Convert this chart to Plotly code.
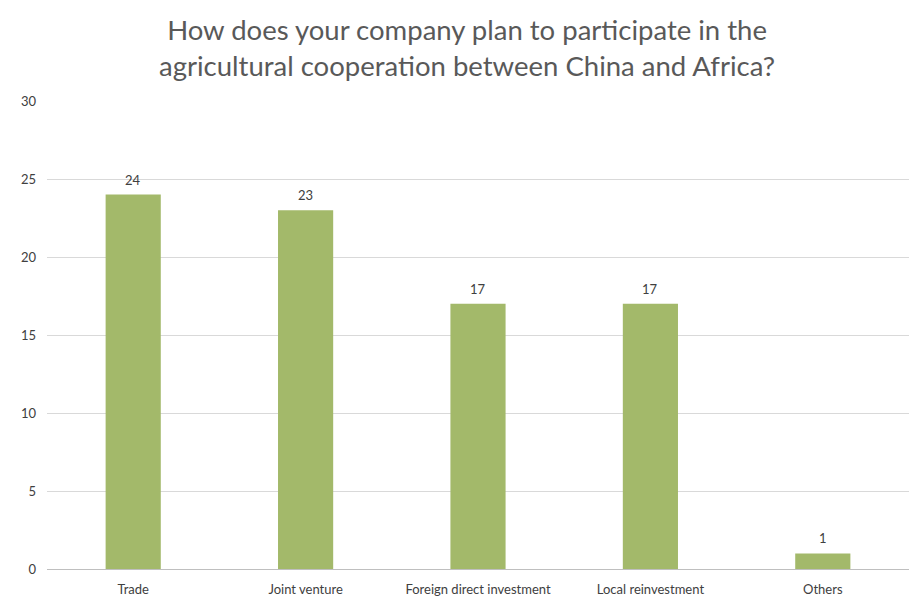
import plotly.graph_objects as go

categories = ["Trade", "Joint venture", "Foreign direct investment", "Local reinvestment", "Others"]
counts = [24, 23, 17, 17, 1]
y_ticks = [0, 5, 10, 15, 20, 25, 30]

bar_color = "#A3B96A"
text_color = "#595959"
grid_color = "#D9D9D9"

fig = go.Figure(
    go.Bar(
        x=categories,
        y=counts,
        marker=dict(color=bar_color, line=dict(width=0)),
        width=0.32,
        hoverinfo="x+y",
    )
)

# value labels sitting just above each bar
for cat, val in zip(categories, counts):
    fig.add_annotation(
        x=cat,
        y=val,
        text=str(val),
        showarrow=False,
        yanchor="bottom",
        yshift=5,
        font=dict(size=13, color="#404040", family="Lato"),
    )

fig.update_layout(
    width=914,
    height=601,
    paper_bgcolor="white",
    plot_bgcolor="white",
    margin=dict(l=47, r=5, t=101, b=32),
    showlegend=False,
    font=dict(family="Lato", color=text_color),
    title=dict(
        text="How does your company plan to participate in the<br>agricultural cooperation between China and Africa?",
        x=0.511,
        xanchor="center",
        y=1 - 40 / 601,
        yanchor="middle",
        yref="container",
        font=dict(size=27.5, color=text_color, family="Lato"),
    ),
    xaxis=dict(
        showgrid=False,
        showline=True,
        linecolor="#BFBFBF",
        linewidth=1,
        ticks="",
        tickfont=dict(size=13, color="#404040"),
        ticklabelstandoff=8,
    ),
    yaxis=dict(
        range=[0, 30],
        tickvals=y_ticks,
        showgrid=True,
        gridcolor=grid_color,
        gridwidth=1,
        zeroline=False,
        showline=False,
        ticks="",
        tickfont=dict(size=13, color="#404040"),
        ticklabelstandoff=10,
    ),
)

fig.write_html("out.html")
